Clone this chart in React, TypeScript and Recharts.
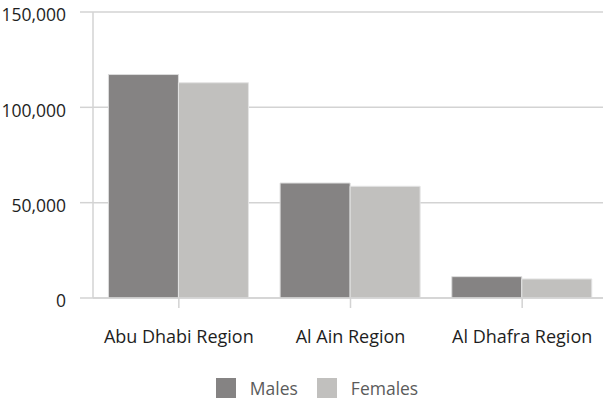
import { Bar, BarChart, CartesianGrid, Legend, XAxis, YAxis } from 'recharts';

const regions = ['Abu Dhabi Region', 'Al Ain Region', 'Al Dhafra Region'];
const males = [117200, 60300, 11200];
const females = [112900, 58600, 10000];
const yTicks = [0, 50000, 100000, 150000];
const seriesNames = ['Males', 'Females'];

const data = regions.map((region, i) => ({ region, males: males[i], females: females[i] }));

const FONT = '"Open Sans", "DejaVu Sans", sans-serif';
const GRID = '#d3d3d3';

const renderLegend = (props: any) => {
  const items = [...props.payload].sort(
    (a: any, b: any) => seriesNames.indexOf(a.value) - seriesNames.indexOf(b.value)
  );
  return (
    <div style={{ display: 'flex', justifyContent: 'center', alignItems: 'center', height: 30, paddingLeft: 26, fontFamily: FONT }}>
      {items.map((entry: any, idx: number) => (
        <div key={entry.value} style={{ display: 'flex', alignItems: 'center', marginLeft: idx === 0 ? 0 : 19 }}>
          <span style={{ display: 'inline-block', width: 20, height: 20, background: entry.color, marginRight: 14 }} />
          <span style={{ fontSize: 17.5, color: '#5b5b5b' }}>{entry.value}</span>
        </div>
      ))}
    </div>
  );
};

export default function App() {
  return (
    <div style={{ position: 'fixed', left: 0, top: 0, width: 603, height: 403, overflow: 'hidden', background: '#fff' }}>
      <BarChart
        width={608}
        height={403}
        data={data}
        margin={{ top: 12, right: 0, bottom: 0, left: 0 }}
        barCategoryGap="9%"
        barGap={0}
      >
        <CartesianGrid vertical={false} stroke={GRID} strokeWidth={1.5} />
        <XAxis
          dataKey="region"
          height={75}
          tickSize={10}
          tickMargin={22}
          axisLine={{ stroke: GRID, strokeWidth: 1.5 }}
          tickLine={{ stroke: GRID, strokeWidth: 1.5 }}
          tick={{ fill: '#1e1e1e', fontSize: 18, fontFamily: FONT }}
        />
        <YAxis
          width={93}
          domain={[0, 150000]}
          ticks={yTicks}
          tickSize={13}
          tickMargin={14}
          axisLine={{ stroke: GRID, strokeWidth: 1.5 }}
          tickLine={{ stroke: GRID, strokeWidth: 1.5 }}
          tick={{ fill: '#1e1e1e', fontSize: 17.5, fontFamily: FONT, dy: 3 }}
          tickFormatter={(v: number) => v.toLocaleString('en-US')}
        />
        <Legend verticalAlign="bottom" content={renderLegend} />
        <Bar dataKey="males" name="Males" fill="#858383" stroke="#dcdcdc" strokeWidth={1} isAnimationActive={false} />
        <Bar dataKey="females" name="Females" fill="#c1c0be" stroke="#e4e4e4" strokeWidth={1} isAnimationActive={false} />
      </BarChart>
    </div>
  );
}
